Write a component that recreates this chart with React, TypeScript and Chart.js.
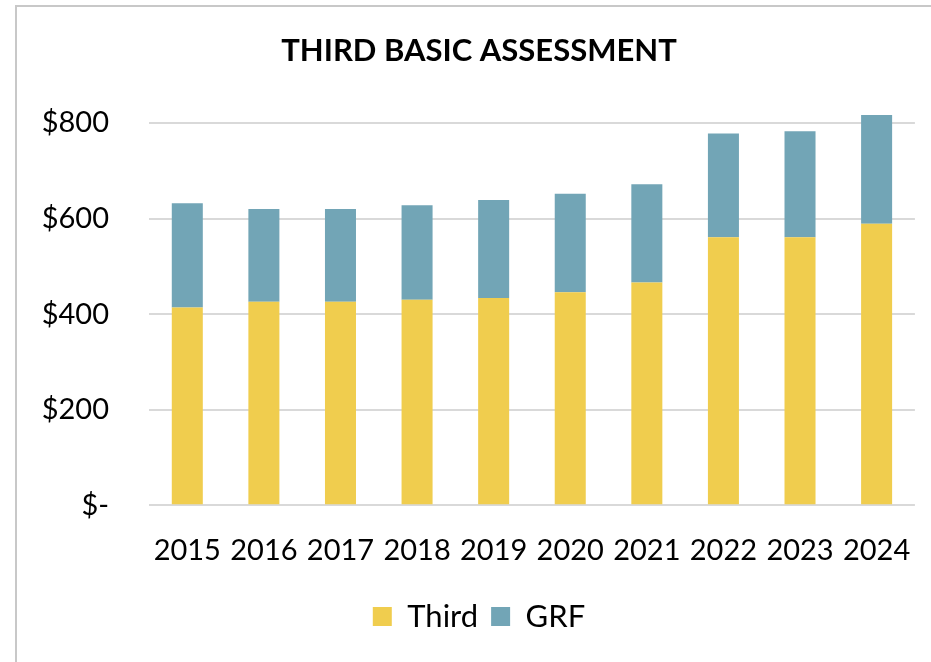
import React, { useEffect, useRef } from "react";
import { Chart, registerables } from "chart.js";

Chart.register(...registerables);

const years = ["2015", "2016", "2017", "2018", "2019", "2020", "2021", "2022", "2023", "2024"];
const thirdValues = [414, 426, 426, 430, 434, 446, 466, 561, 561, 589];
const grfValues = [218, 194, 194, 198, 205, 206, 206, 217, 222, 228];
const yTicks = [0, 200, 400, 600, 800];

const FONT = "Lato, 'Open Sans', sans-serif";

export default function App() {
  const canvasRef = useRef<HTMLCanvasElement | null>(null);

  useEffect(() => {
    if (!canvasRef.current) return;
    const chart = new Chart(canvasRef.current, {
      type: "bar",
      data: {
        labels: years,
        datasets: [
          {
            label: "Third",
            data: thirdValues,
            backgroundColor: "#F0CD4E",
            borderWidth: 0,
            barPercentage: 0.405,
            categoryPercentage: 1,
          },
          {
            label: "GRF",
            data: grfValues,
            backgroundColor: "#72A5B6",
            borderWidth: 0,
            barPercentage: 0.405,
            categoryPercentage: 1,
          },
        ],
      },
      options: {
        responsive: false,
        animation: false,
        layout: { padding: { left: 42, right: 15, top: 0, bottom: 20 } },
        plugins: {
          tooltip: { enabled: false },
          title: {
            display: true,
            text: "THIRD BASIC ASSESSMENT",
            color: "#000",
            font: { family: FONT, size: 31, weight: "bold" },
            padding: { top: 32, bottom: 30 },
          },
          legend: {
            position: "bottom",
            labels: {
              color: "#000",
              font: { family: FONT, size: 31 },
              boxWidth: 19,
              boxHeight: 19,
              padding: 13,
            },
          },
        },
        scales: {
          x: {
            stacked: true,
            grid: { display: false },
            border: { display: false },
            ticks: {
              color: "#000",
              font: { family: FONT, size: 29 },
              padding: 20,
              maxRotation: 0,
            },
          },
          y: {
            stacked: true,
            min: 0,
            max: 850,
            afterBuildTicks: (axis: any) => {
              axis.ticks = yTicks.map((v) => ({ value: v }));
            },
            afterFit: (axis: any) => {
              axis.width = 107;
            },
            grid: { color: "#d9d9d9", lineWidth: 2, drawTicks: false },
            border: { display: false },
            ticks: {
              color: "#000",
              font: { family: FONT, size: 29 },
              padding: 40,
              callback: (v: any) => (Number(v) === 0 ? "$-" : "$" + v),
            },
          },
        },
      },
    });
    return () => chart.destroy();
  }, []);

  return (
    <div style={{ position: "fixed", left: 0, top: 0, width: 931, height: 662, background: "#fff", overflow: "hidden" }}>
      <div
        style={{
          position: "absolute",
          left: 15,
          top: 5,
          width: 940,
          height: 700,
          borderTop: "2px solid #c8c8c8",
          borderLeft: "2px solid #c8c8c8",
        }}
      />
      <canvas ref={canvasRef} width={931} height={662} style={{ position: "absolute", left: 0, top: 0 }} />
    </div>
  );
}
